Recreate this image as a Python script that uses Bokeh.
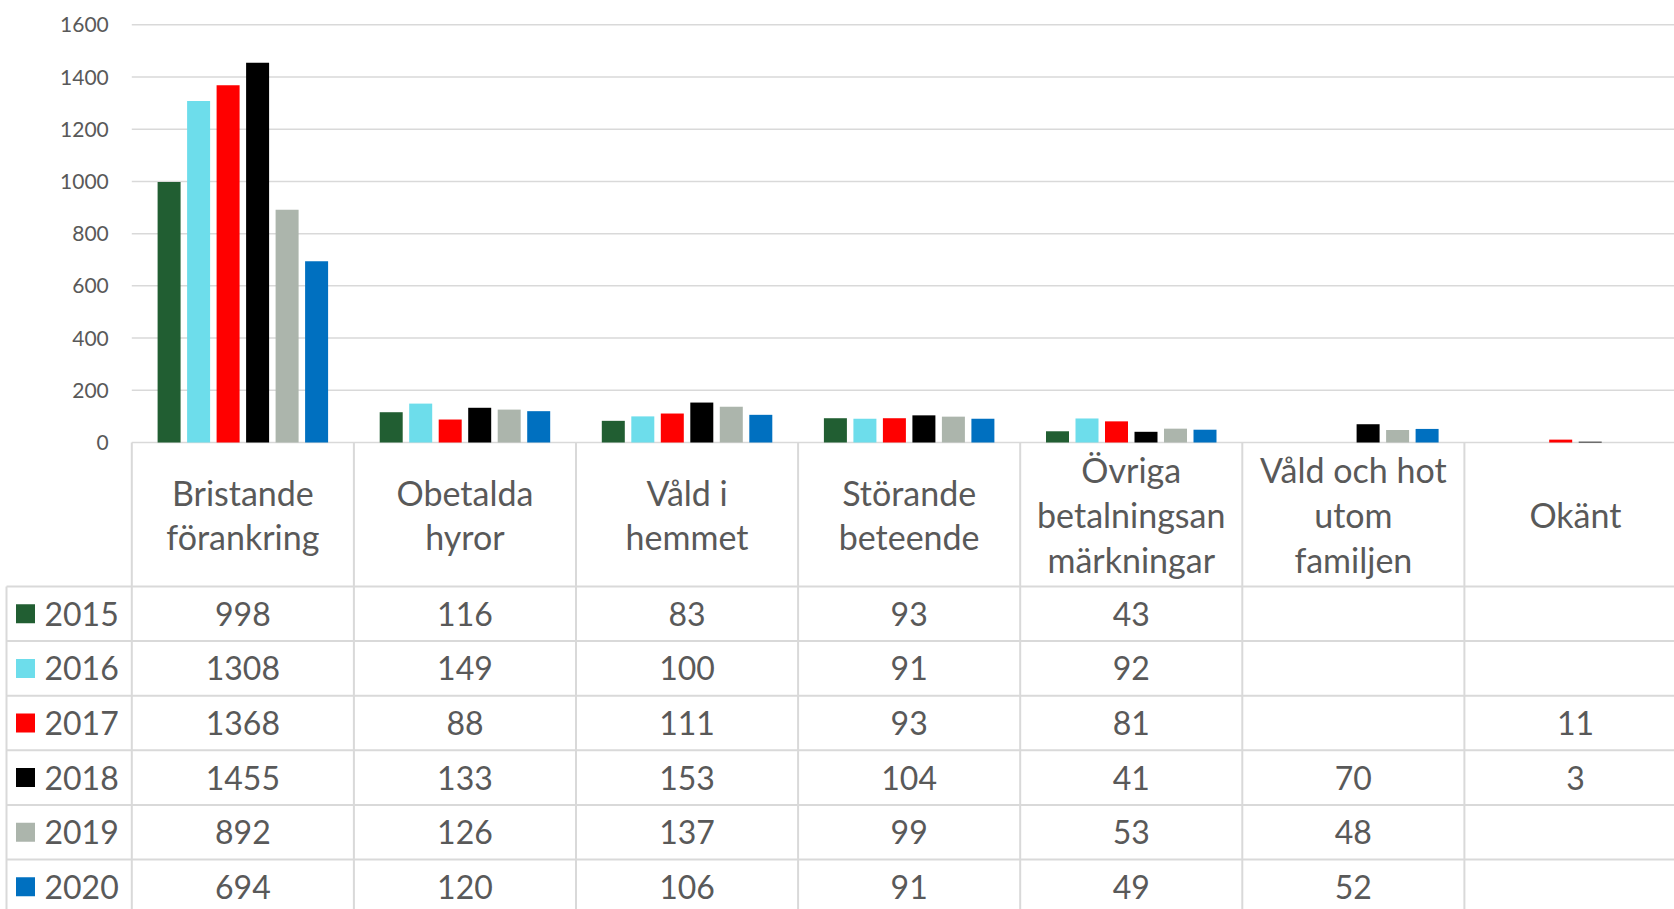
from bokeh.plotting import figure
from bokeh.models import Range1d, FixedTicker, LinearAxis
from bokeh.core.properties import value
from bokeh.embed import file_html
from bokeh.resources import INLINE

# ---------------- data ----------------
categories = ["Bristande förankring", "Obetalda hyror", "Våld i hemmet",
              "Störande beteende", "Övriga betalningsanmärkningar",
              "Våld och hot utom familjen", "Okänt"]
header_lines = [["Bristande", "förankring"], ["Obetalda", "hyror"],
                ["Våld i", "hemmet"], ["Störande", "beteende"],
                ["Övriga", "betalningsan", "märkningar"],
                ["Våld och hot", "utom", "familjen"], ["Okänt"]]
years = ["2015", "2016", "2017", "2018", "2019", "2020"]
v2015 = [998, 116, 83, 93, 43, None, None]
v2016 = [1308, 149, 100, 91, 92, None, None]
v2017 = [1368, 88, 111, 93, 81, None, 11]
v2018 = [1455, 133, 153, 104, 41, 70, 3]
v2019 = [892, 126, 137, 99, 53, 48, None]
v2020 = [694, 120, 106, 91, 49, 52, None]
series = [v2015, v2016, v2017, v2018, v2019, v2020]
colors = ["#215E32", "#6DDDEB", "#FF0000", "#000000", "#ACB5AC", "#0070C0"]
y_ticks = [0, 200, 400, 600, 800, 1000, 1200, 1400, 1600]

# ---------------- style / layout (pixels) ----------------
FONT = "Lato"
TXT = "#595959"
GRID = "#D9D9D9"
W, H = 1674, 909
X0_PX = 131.3          # left edge of first category column
CAT_W = 222.1          # px per category
Y0_PX = 442.0          # pixel row of value 0 (table header top)
Y1600_PX = 24.3        # pixel row of value 1600
HDR_PX = 144.0         # header height
ROW_PX = 54.6          # row height
UNIT_PX = (Y0_PX - Y1600_PX) / 1600.0

n_cat = len(categories)
n_ser = len(years)

x_start = -X0_PX / CAT_W
x_end = (W - X0_PX) / CAT_W
y_top = 1600 + Y1600_PX / UNIT_PX
y_bot = -(H - Y0_PX) / UNIT_PX
row0_px = Y0_PX + HDR_PX
t_top = -row0_px / ROW_PX
t_bot = (H - row0_px) / ROW_PX
hdr_rows = HDR_PX / ROW_PX

p = figure(width=W, height=H, x_range=Range1d(x_start, x_end), y_range=Range1d(y_bot, y_top),
           output_backend="svg", toolbar_location=None,
           x_axis_location=None, y_axis_location=None,
           min_border_left=0, min_border_right=0, min_border_top=0, min_border_bottom=0,
           background_fill_color="white", border_fill_color="white")
p.extra_y_ranges = {"table": Range1d(t_bot, t_top)}
p.outline_line_color = None
p.grid.visible = False

# y axis drawn inside frame at x = 0
ax = LinearAxis(fixed_location=0, ticker=FixedTicker(ticks=y_ticks))
ax.axis_line_color = None
ax.major_tick_line_color = None
ax.minor_tick_line_color = None
ax.major_tick_out = 0
ax.major_tick_in = 0
ax.major_label_standoff = 23
ax.major_label_text_font = FONT
ax.major_label_text_font_size = "21px"
ax.major_label_text_color = TXT
p.add_layout(ax, "left")

# horizontal gridlines of the chart
p.segment(x0=[0] * len(y_ticks), x1=[x_end] * len(y_ticks), y0=y_ticks, y1=y_ticks,
          line_color=GRID, line_width=1.5)

# bars
pitch = 29.5 / CAT_W
bw = 23.0 / CAT_W
for k, (vals, col) in enumerate(zip(series, colors)):
    xs = [i + 0.5 + (k - (n_ser - 1) / 2) * pitch for i, v in enumerate(vals) if v is not None]
    tops = [v for v in vals if v is not None]
    p.vbar(x=xs, top=tops, bottom=0, width=bw, fill_color=col, line_color=None)

# ---------------- table ----------------
x_left_border = x_start + 6.0 / CAT_W
cols = list(range(n_cat + 1))
p.segment(x0=cols, x1=cols, y0=[-hdr_rows] * len(cols), y1=[t_bot] * len(cols),
          line_color=GRID, line_width=2, y_range_name="table")
p.segment(x0=[x_left_border], x1=[x_left_border], y0=[0], y1=[t_bot],
          line_color=GRID, line_width=2, y_range_name="table")
rows = list(range(n_ser + 1))
p.segment(x0=[x_left_border] * len(rows), x1=[x_end] * len(rows), y0=rows, y1=rows,
          line_color=GRID, line_width=2, y_range_name="table")

# header text
line_sp = 44.8 / ROW_PX
hdr_c = -hdr_rows / 2
hx, hy, ht = [], [], []
for i, lines in enumerate(header_lines):
    n = len(lines)
    for j, t in enumerate(lines):
        hx.append(i + 0.5)
        hy.append(hdr_c + (j - (n - 1) / 2) * line_sp)
        ht.append(t)
p.text(x=hx, y=hy, text=ht, text_font=value(FONT), text_font_size="34px",
       text_color=TXT, text_align="center", text_baseline="middle", y_range_name="table")

# legend column
row_c = [r + 0.5 for r in range(n_ser)]
p.scatter(x=[(25 - X0_PX) / CAT_W] * n_ser, y=row_c, marker="square", size=19,
          fill_color=colors, line_color=None, y_range_name="table")
p.text(x=[(44 - X0_PX) / CAT_W] * n_ser, y=row_c, text=years, text_font=value(FONT),
       text_font_size="32px", text_color=TXT, text_align="left", text_baseline="middle",
       y_range_name="table")

# values
vx, vy, vt = [], [], []
for r, vals in enumerate(series):
    for i, v in enumerate(vals):
        if v is not None:
            vx.append(i + 0.5)
            vy.append(r + 0.5)
            vt.append(str(v))
p.text(x=vx, y=vy, text=vt, text_font=value(FONT), text_font_size="32px",
       text_color=TXT, text_align="center", text_baseline="middle", y_range_name="table")

open("out.html", "w").write(file_html(p, INLINE))
